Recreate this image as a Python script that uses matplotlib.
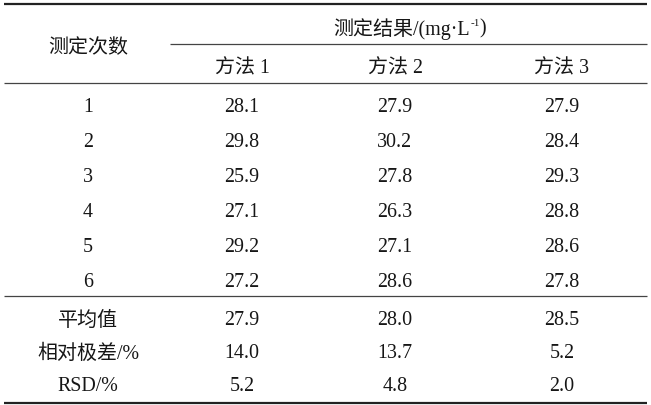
import matplotlib
matplotlib.use("Agg")
import matplotlib.pyplot as plt

FAM = ['Liberation Serif', 'Noto Sans CJK SC', 'DejaVu Sans']
plt.rcParams['font.family'] = FAM

row_header = "测定次数"
group_header = "测定结果/(mg·L"
group_sup = "-1"
group_end = ")"
methods = ["方法 1", "方法 2", "方法 3"]
run_labels = ["1", "2", "3", "4", "5", "6"]
method1 = ["28.1", "29.8", "25.9", "27.1", "29.2", "27.2"]
method2 = ["27.9", "30.2", "27.8", "26.3", "27.1", "28.6"]
method3 = ["27.9", "28.4", "29.3", "28.8", "28.6", "27.8"]
stat_labels = ["平均值", "相对极差/%", "RSD/%"]
stat1 = ["27.9", "14.0", "5.2"]
stat2 = ["28.0", "13.7", "4.8"]
stat3 = ["28.5", "5.2", "2.0"]

W, H = 651, 406
fig = plt.figure(figsize=(W / 100, H / 100), dpi=100)
ax = fig.add_axes([0, 0, 1, 1])
ax.set_xlim(0, W)
ax.set_ylim(H, 0)
ax.axis('off')

col_x = [88, 242, 395, 562]
fs = 14.4
tc = '#161616'
dy = 2

def put(x, y, s, **kw):
    return ax.text(x, y + dy, s, ha=kw.pop('ha', 'center'), va=kw.pop('va', 'center'),
                   fontsize=kw.pop('fontsize', fs), color=tc, family=FAM, **kw)

# header
put(col_x[0], 47, row_header)

# group header with manual superscript
renderer = fig.canvas.get_renderer()
t1 = put(0, 27, group_header, ha='left')
t2 = put(0, 21, group_sup, ha='left', fontsize=8)
t3 = put(0, 27, group_end, ha='left')
w1 = t1.get_window_extent(renderer).width
w2 = t2.get_window_extent(renderer).width
w3 = t3.get_window_extent(renderer).width
total = w1 + w2 + w3
x0 = 410 - total / 2
t1.set_x(x0)
t2.set_x(x0 + w1)
t3.set_x(x0 + w1 + w2)

for x, m in zip(col_x[1:], methods):
    put(x, 67, m)

row_y = [105, 140.5, 176, 211, 246, 281]
for i, y in enumerate(row_y):
    put(col_x[0], y, run_labels[i])
    put(col_x[1], y, method1[i])
    put(col_x[2], y, method2[i])
    put(col_x[3], y, method3[i])

stat_y = [319, 352, 385]
for i, y in enumerate(stat_y):
    put(col_x[0], y, stat_labels[i])
    put(col_x[1], y, stat1[i])
    put(col_x[2], y, stat2[i])
    put(col_x[3], y, stat3[i])

lc = '#222222'
ax.hlines(5, 4, 647, color=lc, lw=1.6)
ax.hlines(45, 170, 647, color='#444444', lw=0.9)
ax.hlines(84, 4, 647, color='#444444', lw=0.9)
ax.hlines(297, 4, 647, color='#444444', lw=0.9)
ax.hlines(403.5, 4, 647, color=lc, lw=1.6)

fig.savefig("out.png", dpi=100)
